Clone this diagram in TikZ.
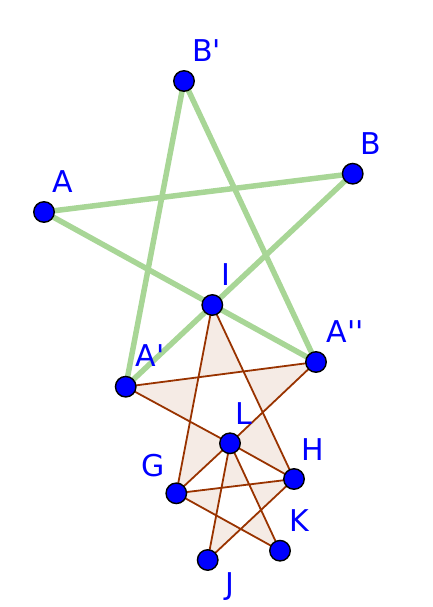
\documentclass[tikz,border=0pt]{standalone}
\usepackage{fontspec}
\setmainfont{DejaVu Sans}
\usepackage{tikz}
\definecolor{ggbbrown}{RGB}{153,51,0}
\definecolor{ggbgreen}{RGB}{168,214,150}
\definecolor{ggbblue}{RGB}{0,0,255}
\newcommand{\pr}{\textquotesingle}
\tikzset{
    gpoint/.style={circle,draw=black,line width=1.4pt,fill=ggbblue,minimum size=20.5pt,inner sep=0pt},
    lbl/.style={text=ggbblue,inner sep=0pt,anchor=base west,font=\fontsize{30}{36}\selectfont},
    greenline/.style={draw=ggbgreen,line width=5.5pt},
    brownline/.style={draw=ggbbrown,line width=1.8pt},
    starfill/.style={fill=ggbbrown!10,even odd rule}
}

\begin{document}
\begin{tikzpicture}[x=1pt,y=-1pt]
        \useasboundingbox (0,0) rectangle (432,607);
        % outer points
        \coordinate (A) at (44,212);
        \coordinate (B) at (352.7,173.7);
        \coordinate (B') at (184,81);
        \coordinate (I) at (212.3,305);
        \coordinate (A') at (125.7,386.7);
        \coordinate (A'') at (316,362);
        % inner points
        \coordinate (L) at (230,443.3);
        \coordinate (H) at (294,479);
        \coordinate (G) at (176.3,493.3);
        \coordinate (K) at (280,550.7);
        \coordinate (J) at (207.7,560);

        % shaded stars
        \path[starfill] (I) -- (H) -- (A') -- (A'') -- (G) -- cycle;
        \path[starfill] (L) -- (K) -- (G) -- (H) -- (J) -- cycle;

        \draw[brownline] (I) -- (G) (I) -- (H) (A') -- (A'');
        \draw[brownline] (A') -- (L) -- (H) (A'') -- (L) -- (G);
        \draw[brownline] (G) -- (H) (G) -- (K) (L) -- (J) (L) -- (K) (H) -- (J);

        \draw[greenline] (A) -- (B) (A) -- (A'') (B) -- (A');
        \draw[greenline] (B') -- (A') (B') -- (A'');

        \foreach \p in {A,B,B',I,A',A'',L,H,G,K,J}
            \node[gpoint] (pt\p) at (\p) {};

        \node[lbl] (lA) at (52.5,192) {A};
        \node[lbl] (lB') at (192,62) {B\pr};
        \node[lbl] (lB) at (360,154) {B};
        \node[lbl] (lI) at (221,285) {I};
        \node[lbl] (lA'') at (326.5,342) {A\pr\pr};
        \node[lbl] (lA') at (135.5,366) {A\pr};
        \node[lbl] (lL) at (235.5,424) {L};
        \node[lbl] (lH) at (301,460) {H};
        \node[lbl] (lG) at (141,476) {G};
        \node[lbl] (lK) at (289,531.5) {K};
        \node[lbl] (lJ) at (225,594) {J};
    \end{tikzpicture}
\end{document}
